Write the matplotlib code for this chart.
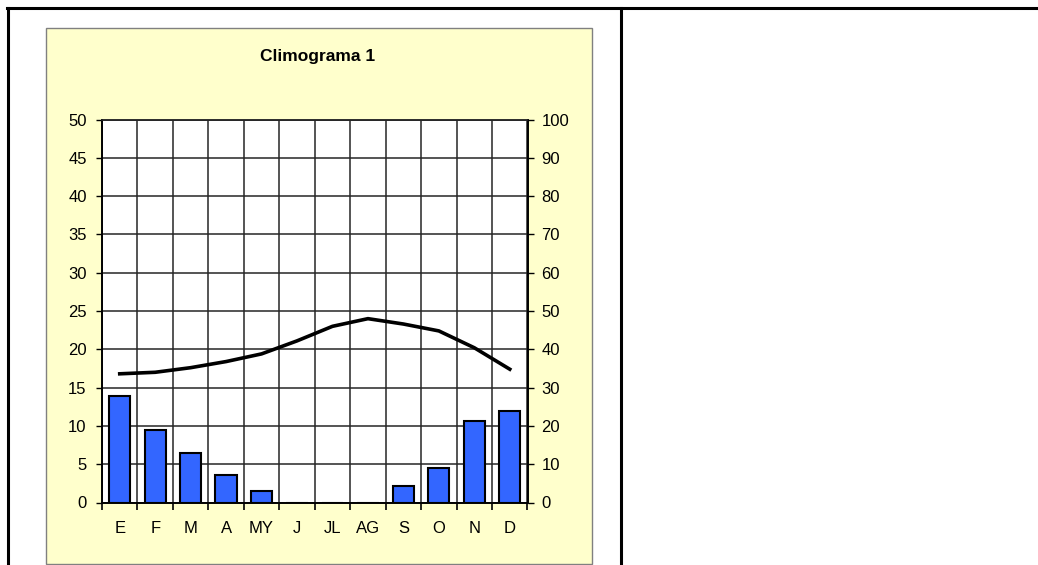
# coding: UTF-8

import numpy as np
import matplotlib
matplotlib.use("Agg")
import matplotlib.pyplot as plt
from matplotlib.lines import Line2D
from matplotlib.patches import Rectangle

# datos del climograma
meses = ["E", "F", "M", "A", "MY", "J", "JL", "AG", "S", "O", "N", "D"]
temperatura = [16.8, 17.0, 17.6, 18.4, 19.4, 21.1, 23.0, 24.0, 23.3, 22.4, 20.2, 17.4]
precipitacion = [27.7, 18.8, 12.8, 7.3, 3.0, 0, 0, 0, 4.2, 8.9, 21.2, 23.8]

plt.rcParams["font.family"] = ["Liberation Sans", "DejaVu Sans"]

W, H = 1038, 565
fig = plt.figure(figsize=(W / 100, H / 100), dpi=100)
fig.patch.set_facecolor("white")

def px(x0, y0, x1, y1):
    # rectangulo en pixeles (origen arriba a la izquierda) -> coordenadas de figura
    return [x0 / W, 1 - y1 / H, (x1 - x0) / W, (y1 - y0) / H]

# bordes de la tabla
fig.add_artist(Line2D([7 / W, 1], [1 - 7.5 / H] * 2, color="black", lw=2.2))
fig.add_artist(Line2D([7.5 / W] * 2, [0, 1 - 7.5 / H], color="black", lw=2.2))
fig.add_artist(Line2D([620.5 / W] * 2, [0, 1 - 7.5 / H], color="black", lw=2.2))

# panel amarillo del grafico (detras de los ejes)
fig.add_artist(Rectangle((46 / W, 1 - 564 / H), (592 - 46) / W, (564 - 28) / H,
                         facecolor="#FFFFCC", edgecolor="#808080", lw=1.0, zorder=-10))

fig.text(318 / W, 1 - 57 / H, "Climograma 1", ha="center", va="center",
         fontsize=12.5, fontweight="bold")

ax = fig.add_axes(px(102, 119.5, 527.5, 502.5))
ax.set_facecolor("white")
x = np.arange(len(meses))

# temperatura (eje izquierdo)
ax.plot(x, temperatura, color="black", lw=2.6, zorder=3)
ax.set_ylim(0, 50)
ax.set_yticks(np.arange(0, 51, 5))
ax.set_xlim(-0.5, len(meses) - 0.5)
ax.set_xticks(np.arange(-0.5, len(meses), 1.0))
ax.set_xticklabels([])
ax.set_xticks(x, minor=True)
ax.set_xticklabels(meses, minor=True)
ax.tick_params(axis="x", which="minor", length=0, pad=13, labelsize=12)
ax.tick_params(axis="x", which="major", length=5, width=1.2, direction="out")
ax.tick_params(axis="y", length=4, width=1.0, direction="out", pad=7, labelsize=12)
ax.grid(True, which="major", color="#262626", lw=1.1)
ax.set_axisbelow(True)

# precipitacion (eje derecho)
ax2 = ax.twinx()
ax2.bar(x, precipitacion, width=0.6, color="#3366FF", edgecolor="black", lw=1.5, zorder=2)
ax2.set_ylim(0, 100)
ax2.set_yticks(np.arange(0, 101, 10))
ax2.tick_params(axis="y", length=4, width=1.0, direction="out", pad=6, labelsize=12)

for a in (ax, ax2):
    for s in ("left", "right", "bottom"):
        a.spines[s].set_color("black")
        a.spines[s].set_linewidth(1.2)
    a.spines["top"].set_color("#262626")
    a.spines["top"].set_linewidth(1.1)

fig.savefig("out.png", dpi=100)
